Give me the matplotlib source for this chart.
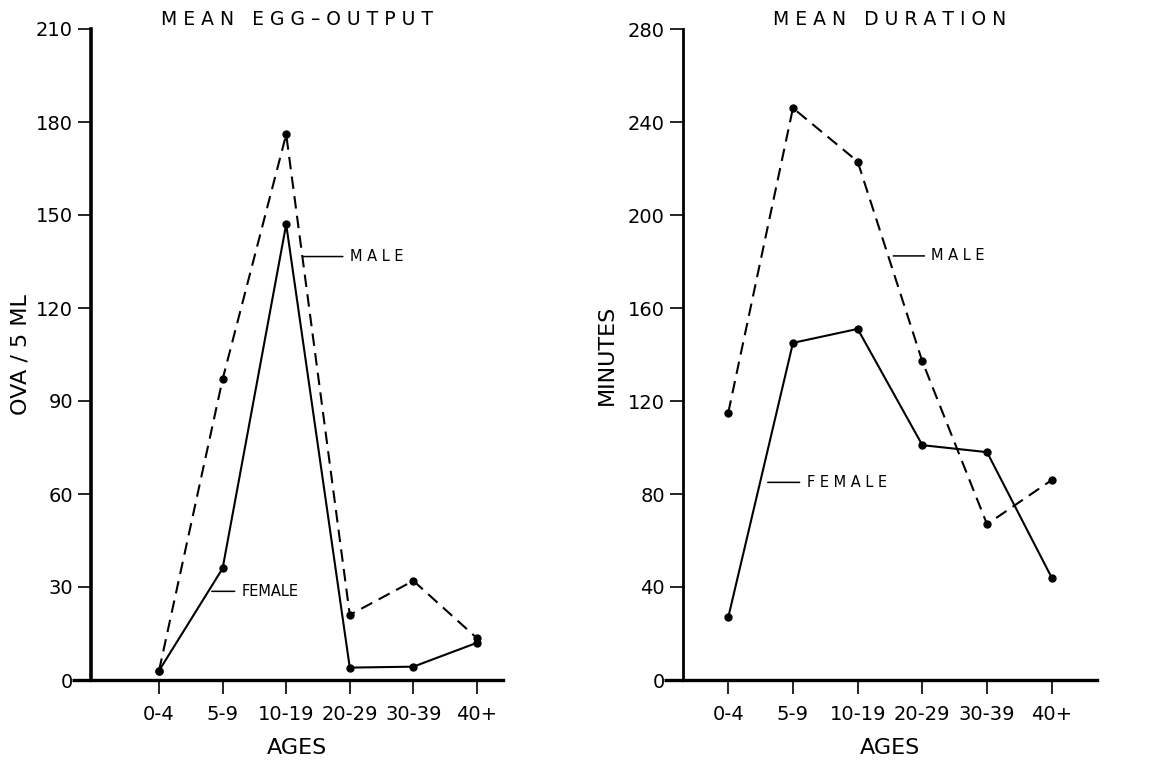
import matplotlib
matplotlib.use("Agg")
import matplotlib.pyplot as plt

ages = ['0-4', '5-9', '10-19', '20-29', '30-39', '40+']

# mean egg output (ova / 5 ml)
egg_male = [3, 97, 176, 21, 32, 13.5]
egg_female = [3, 36, 147, 4, 4.3, 12]

# mean duration (minutes)
dur_male = [115, 246, 223, 137, 67, 86]
dur_female = [27, 145, 151, 101, 98, 44]

W, H = 1153, 762
fig = plt.figure(figsize=(W / 100, H / 100), dpi=100)
plt.rcParams['font.family'] = 'DejaVu Sans'


def px_axes(x0, x1, y_top, y_bot):
    return fig.add_axes([x0 / W, 1 - y_bot / H, (x1 - x0) / W, (y_bot - y_top) / H])


def style(ax, ymax, ystep, xlim, ylabel, title, spine_w, lpad):
    x = range(len(ages))
    ax.set_xlim(*xlim)
    ax.set_ylim(0, ymax)
    ax.set_yticks(range(0, ymax + 1, ystep))
    ax.set_xticks(list(x))
    ax.set_xticklabels(ages)
    for s in ['top', 'right']:
        ax.spines[s].set_visible(False)
    ax.spines['left'].set_linewidth(spine_w)
    ax.spines['bottom'].set_linewidth(2.4)
    ax.tick_params(axis='y', direction='out', length=9.5, width=1.2, pad=3.5, labelsize=14)
    ax.tick_params(axis='x', direction='out', length=10, width=1.2, pad=8, labelsize=14)
    # bottom line runs a little past the y axis
    ax.plot([-0.045, 0], [0, 0], transform=ax.transAxes, color='black', lw=2.4,
            clip_on=False, solid_capstyle='butt')
    ax.set_ylabel(ylabel, fontsize=16, labelpad=lpad)
    ax.set_xlabel('AGES', fontsize=16, labelpad=10)
    ax.set_title(title, fontsize=13.5, pad=2)


def draw(ax, male, female):
    x = range(len(ages))
    ax.plot(x, male, color='black', lw=1.5, dashes=(6, 3.5), marker='o', ms=5,
            clip_on=False)
    ax.plot(x, female, color='black', lw=1.5, marker='o', ms=5, clip_on=False)


def tag(ax, text, x0, x1, y):
    ax.annotate(text, xy=(x0, y), xytext=(x1, y), fontsize=10.5, va='center', ha='left',
                arrowprops=dict(arrowstyle='-', lw=1.1, color='black',
                                shrinkA=3, shrinkB=0))


# left panel
ax1 = px_axes(91, 503, 29, 680)
draw(ax1, egg_male, egg_female)
style(ax1, 210, 30, (-1.07, 5.41), 'OVA / 5 ML', 'M E A N   E G G – O U T P U T', 2.6, 4)
tag(ax1, 'M A L E', 2.26, 3.0, 136.6)
tag(ax1, 'FEMALE', 0.83, 1.3, 28.6)

# right panel
ax2 = px_axes(683, 1097, 29, 680)
draw(ax2, dur_male, dur_female)
style(ax2, 280, 40, (-0.70, 5.70), 'MINUTES', 'M E A N   D U R A T I O N', 2.0, 8)
tag(ax2, 'M A L E', 2.55, 3.14, 182.4)
tag(ax2, 'F E M A L E', 0.61, 1.21, 85)

fig.savefig('out.png', dpi=100)
